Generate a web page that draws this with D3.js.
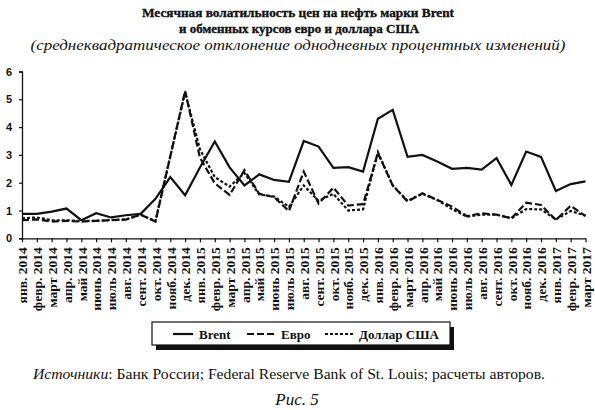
<!DOCTYPE html>
<html>
<head>
<meta charset="utf-8">
<script src="https://cdn.jsdelivr.net/npm/d3@7"></script>
<style>
  body { margin: 0; background: #fff; }
  svg { display: block; }
  text { fill: #111; }
</style>
</head>
<body>
<div id="chart"></div>
<script>
// months, Jan 2014 - Mar 2017
const months = [
  'янв. 2014', 'февр. 2014', 'март 2014', 'апр. 2014', 'май 2014', 'июнь 2014',
  'июль 2014', 'авг. 2014', 'сент. 2014', 'окт. 2014', 'нояб. 2014', 'дек. 2014',
  'янв. 2015', 'февр. 2015', 'март 2015', 'апр. 2015', 'май 2015', 'июнь 2015',
  'июль 2015', 'авг. 2015', 'сент. 2015', 'окт. 2015', 'нояб. 2015', 'дек. 2015',
  'янв. 2016', 'февр. 2016', 'март 2016', 'апр. 2016', 'май 2016', 'июнь 2016',
  'июль 2016', 'авг. 2016', 'сент. 2016', 'окт. 2016', 'нояб. 2016', 'дек. 2016',
  'янв. 2017', 'февр. 2017', 'март 2017'
];

const brent = [
  0.88, 0.88, 0.96, 1.07, 0.65, 0.9, 0.75, 0.83, 0.88, 1.42, 2.2, 1.55,
  2.55, 3.48, 2.55, 1.9, 2.3, 2.1, 2.03, 3.5, 3.3, 2.53, 2.56, 2.4,
  4.3, 4.62, 2.93, 3.0, 2.76, 2.5, 2.53, 2.47, 2.88, 1.92, 3.12, 2.93,
  1.7, 1.95, 2.05
];

const euro = [
  0.65, 0.68, 0.6, 0.63, 0.6, 0.63, 0.65, 0.67, 0.85, 0.6, 2.95, 5.3,
  2.9, 1.98, 1.56, 2.45, 1.6, 1.48, 0.98, 2.4, 1.25, 1.82, 1.18, 1.23,
  3.07, 1.9, 1.32, 1.62, 1.38, 1.14, 0.8, 0.9, 0.85, 0.72, 1.28, 1.2,
  0.66, 1.17, 0.8
];

const usd = [
  0.72, 0.75, 0.65, 0.65, 0.62, 0.63, 0.66, 0.68, 0.85, 0.62, 2.95, 5.25,
  3.2, 2.2, 1.86, 2.35, 1.58, 1.5, 1.13, 1.9, 1.35, 1.6, 1.0, 1.04,
  3.1, 1.9, 1.35, 1.6, 1.38, 1.05, 0.78, 0.85, 0.85, 0.72, 1.05, 1.04,
  0.68, 0.98, 0.82
];

const yTicks = [0, 1, 2, 3, 4, 5, 6];

const series = [
  { name: 'Brent', values: brent, dash: null },
  { name: 'Евро', values: euro, dash: '7,3' },
  { name: 'Доллар США', values: usd, dash: '3,2' }
];

const width = 595;
const height = 410;
const margin = { top: 71.5, right: 10, bottom: 172, left: 22 };
const serif = '"Liberation Serif", "DejaVu Serif", serif';

const svg = d3.select('#chart').append('svg')
  .attr('width', width)
  .attr('height', height);

// Titles
svg.append('text')
  .attr('x', 298).attr('y', 17)
  .attr('text-anchor', 'middle')
  .attr('textLength', 312).attr('lengthAdjust', 'spacingAndGlyphs')
  .style('font-family', serif).style('font-weight', 'bold').style('font-size', '13.5px')
  .style('stroke', '#111').style('stroke-width', 0.35)
  .text('Месячная волатильность цен на нефть марки Brent');
svg.append('text')
  .attr('x', 299).attr('y', 33)
  .attr('text-anchor', 'middle')
  .attr('textLength', 240).attr('lengthAdjust', 'spacingAndGlyphs')
  .style('font-family', serif).style('font-weight', 'bold').style('font-size', '13.5px')
  .style('stroke', '#111').style('stroke-width', 0.35)
  .text('и обменных курсов евро и доллара США');
svg.append('text')
  .attr('x', 298).attr('y', 50)
  .attr('text-anchor', 'middle')
  .attr('textLength', 535).attr('lengthAdjust', 'spacingAndGlyphs')
  .style('font-family', serif).style('font-style', 'italic').style('font-size', '15px')
  .text('(среднеквадратическое отклонение однодневных процентных изменений)');

// Scales
const x = d3.scalePoint()
  .domain(d3.range(months.length))
  .range([margin.left, 585.5]);
const y = d3.scaleLinear()
  .domain([0, 6])
  .range([height - margin.bottom + 0.3, margin.top]);

// Y axis
const yAxis = svg.append('g')
  .attr('transform', `translate(${margin.left},0)`)
  .call(d3.axisLeft(y).tickValues(yTicks).tickSize(3).tickPadding(7).tickFormat(d3.format('d')));
yAxis.select('.domain').attr('stroke', '#111').attr('stroke-width', 1.3);
yAxis.selectAll('.tick line').attr('stroke', '#111').attr('stroke-width', 1.2);
yAxis.selectAll('.tick text')
  .style('font-family', '"Liberation Sans", Arial, sans-serif')
  .style('font-weight', 'bold').style('font-size', '11px')
  .attr('fill', '#111');

// X axis
const xAxis = svg.append('g')
  .attr('transform', `translate(0,${y(0)})`)
  .call(d3.axisBottom(x).tickSize(4).tickSizeOuter(0).tickFormat(i => months[i]));
xAxis.select('.domain').attr('stroke', '#111').attr('stroke-width', 1.3);
xAxis.selectAll('.tick line').attr('stroke', '#111').attr('stroke-width', 1.2);
xAxis.selectAll('.tick text')
  .attr('transform', 'rotate(-90)')
  .attr('x', -9).attr('y', 0).attr('dy', '0.35em')
  .attr('text-anchor', 'end')
  .style('font-family', serif).style('font-weight', 'bold').style('font-size', '13.5px')
  .attr('fill', '#111');

// Lines
const line = d3.line()
  .x((d, i) => x(i))
  .y(d => y(d));

svg.selectAll('.series')
  .data(series)
  .enter().append('path')
  .attr('class', 'series')
  .attr('fill', 'none')
  .attr('stroke', '#111')
  .attr('stroke-width', 2.2)
  .attr('stroke-linejoin', 'miter')
  .attr('stroke-dasharray', d => d.dash)
  .attr('d', d => line(d.values));

// Legend
const legend = svg.append('g').attr('transform', 'translate(152,322)');
legend.append('rect')
  .attr('x', 4).attr('y', 5).attr('width', 298).attr('height', 23)
  .attr('fill', '#111');
legend.append('rect')
  .attr('x', 0).attr('y', 0).attr('width', 298).attr('height', 23)
  .attr('fill', '#fff').attr('stroke', '#111').attr('stroke-width', 1.2);

const legendX = [21, 95, 173];
const legendLen = [20, 28, 28];
const items = legend.selectAll('.item')
  .data(series)
  .enter().append('g')
  .attr('class', 'item')
  .attr('transform', (d, i) => `translate(${legendX[i]},12)`);
items.append('line')
  .attr('x1', 0).attr('x2', (d, i) => legendLen[i])
  .attr('stroke', '#111').attr('stroke-width', 2.2)
  .attr('stroke-dasharray', d => d.dash);
items.append('text')
  .attr('x', (d, i) => legendLen[i] + 6).attr('dy', '0.35em')
  .style('font-family', serif).style('font-weight', 'bold').style('font-size', '13px')
  .text(d => d.name);

// Source
const src = svg.append('text')
  .attr('x', 289).attr('y', 379)
  .attr('text-anchor', 'middle')
  .attr('textLength', 512).attr('lengthAdjust', 'spacingAndGlyphs')
  .style('font-family', serif).style('font-size', '14.5px');
src.append('tspan').style('font-style', 'italic').text('Источники');
src.append('tspan').text(': Банк России; Federal Reserve Bank of St. Louis; расчеты авторов.');

svg.append('text')
  .attr('x', 297).attr('y', 405)
  .attr('text-anchor', 'middle')
  .style('font-family', serif).style('font-style', 'italic').style('font-size', '17px')
  .text('Рис. 5');
</script>
</body>
</html>
